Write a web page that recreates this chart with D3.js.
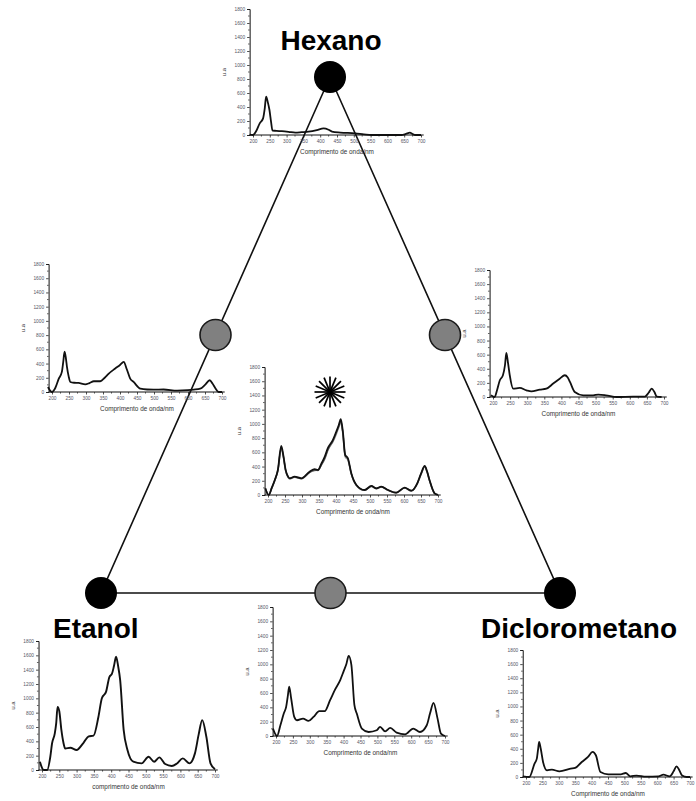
<!DOCTYPE html>
<html>
<head>
<meta charset="utf-8">
<script src="https://cdn.jsdelivr.net/npm/d3@7"></script>
<style>
  html, body { margin: 0; padding: 0; background: #fff; }
  svg { display: block; font-family: Arial, "Liberation Sans", sans-serif; }
</style>
</head>
<body>
<svg id="fig" width="696" height="801"></svg>
<script>
// UV-Vis spectra (u.a) of extracts at each point of the solvent mixture design
const xTicks = [200, 250, 300, 350, 400, 450, 500, 550, 600, 650, 700];
const yTicks = [0, 200, 400, 600, 800, 1000, 1200, 1400, 1600, 1800];

const hexanoWl = [190,200,210,220,230,235,239,244,249,254,258,270,286,306,326,345,365,390,410,425,435,460,504,530,553,600,642,655,667,675,682,700];
const hexanoUa = [5,0,60,167,238,380,548,470,357,180,62,60,55,45,33,40,48,70,95,75,48,35,24,10,0,0,0,15,33,15,0,0];

const hexEtWl = [188,200,210,220,229,233,237,241,244,249,254,265,278,298,310,323,342,355,367,386,400,411,420,430,440,460,480,499,528,568,600,617,636,650,664,672,680,690,700];
const hexEtUa = [71,0,60,188,283,420,566,470,353,220,141,130,127,108,125,151,151,200,259,330,380,424,320,188,141,47,35,33,35,19,25,33,47,100,165,120,57,0,0];

const hexDcWl = [194,205,212,220,229,235,239,244,249,259,278,298,312,337,356,376,395,410,418,425,439,464,493,508,530,562,610,644,655,664,672,679,693];
const hexDcUa = [24,0,100,237,308,450,625,480,308,118,128,95,80,104,118,190,260,308,280,213,71,24,24,33,24,0,5,5,60,118,70,5,0];

const centroWl = [192,202,211,220,229,239,245,252,259,264,278,298,323,337,347,357,367,376,391,401,408,414,420,427,435,445,460,484,504,519,533,553,577,602,622,639,650,661,668,675,690,700];
const centroUa = [94,0,100,211,352,690,560,350,258,235,258,235,329,362,352,440,540,658,775,893,980,1067,900,564,517,305,141,70,127,94,117,70,33,103,61,164,300,409,330,211,23,0];
const centroRep1Ua = [94,0,95,205,340,660,540,340,250,228,250,228,318,350,345,430,520,640,750,860,950,1020,870,540,495,295,135,66,120,90,112,66,30,98,58,158,290,395,320,205,22,0];
const centroRep2Ua = [90,0,98,208,345,675,550,345,255,232,254,232,322,345,348,420,505,625,760,875,965,1040,885,555,505,300,138,68,124,92,115,68,32,100,60,160,295,400,325,208,22,0];

const etanolWl = [194,200,205,215,224,229,237,241,245,250,256,262,267,282,300,320,335,349,363,373,385,395,402,408,414,420,426,436,447,464,488,508,524,539,556,575,590,607,626,642,653,663,675,687,700];
const etanolUa = [116,30,0,0,185,370,510,650,881,820,560,380,300,310,280,380,470,480,740,1000,1090,1300,1340,1450,1580,1450,1250,560,280,116,93,185,116,176,83,56,90,162,93,232,500,696,464,93,10];

const etDcWl = [191,203,213,223,230,235,239,245,254,262,280,296,311,328,344,360,375,390,400,408,415,423,432,439,454,474,498,508,523,538,557,582,606,626,646,656,666,678,688,700];
const etDcUa = [103,0,150,313,407,560,687,520,266,220,243,210,266,346,346,500,650,780,902,1000,1117,991,430,313,103,56,80,126,65,112,47,23,103,56,150,320,463,243,33,0];

const dicloroWl = [190,210,226,233,237,240,245,252,264,279,302,336,350,370,389,403,413,427,451,489,504,518,537,566,604,619,638,650,659,667,676,690,700];
const dicloroUa = [10,0,190,260,400,497,400,213,95,104,80,118,128,213,284,355,308,71,38,38,57,10,20,5,10,33,10,80,152,100,20,0,0];

const vertexNames = ["Hexano", "Etanol", "Diclorometano"];
const axisTitle = "Comprimento de onda/nm";
const axisTitleLower = "comprimento de onda/nm";
const yTitle = "u.a";

const svg = d3.select("#fig");

// ---- mixture triangle ----
const vTop = [330, 77], vLeft = [101, 593], vRight = [560, 593];
const mid = (a, b) => [(a[0] + b[0]) / 2, (a[1] + b[1]) / 2];

svg.append("path")
  .attr("d", d3.line()([vTop, vLeft, vRight, vTop]))
  .attr("fill", "none").attr("stroke", "#111").attr("stroke-width", 1.6);

// ---- spectrum panels ----
function panel(p) {
  const x = d3.scaleLinear().domain([200, 700]).range([p.x200, p.x700]);
  const y = d3.scaleLinear().domain([0, 1800]).range([p.y0, p.y1800]);
  const g = svg.append("g");
  const x0 = x(190);

  // axes
  const ax = d3.axisBottom(x).tickValues(xTicks).tickFormat(d3.format("d")).tickSize(2.5).tickPadding(2);
  const gx = g.append("g").attr("transform", `translate(0,${p.y0})`).call(ax);
  const ay = d3.axisLeft(y).tickValues(yTicks).tickFormat(d3.format("d")).tickSize(2.5).tickPadding(2);
  const gy = g.append("g").attr("transform", `translate(${x0},0)`).call(ay);
  [gx, gy].forEach(a => {
    a.select(".domain").attr("stroke", "#111").attr("stroke-width", 1);
    a.selectAll(".tick line").attr("stroke", "#222").attr("stroke-width", 0.8);
    a.selectAll(".tick text").attr("font-size", 4.8).attr("fill", "#556");
  });
  gx.select(".domain").attr("d", `M${x0},0H${x(708)}`);
  // minor ticks
  g.append("g").selectAll("line").data(d3.range(225, 700, 50)).join("line")
    .attr("x1", d => x(d)).attr("x2", d => x(d))
    .attr("y1", p.y0).attr("y2", p.y0 + 1.6).attr("stroke", "#222").attr("stroke-width", 0.7);
  g.append("g").selectAll("line").data(d3.range(100, 1800, 200)).join("line")
    .attr("x1", x0).attr("x2", x0 - 1.6)
    .attr("y1", d => y(d)).attr("y2", d => y(d)).attr("stroke", "#222").attr("stroke-width", 0.7);

  // axis titles
  g.append("text").attr("x", (p.x200 + p.x700) / 2).attr("y", p.y0 + 18.5)
    .attr("text-anchor", "middle").attr("font-size", 6.4).attr("fill", "#333")
    .text(p.xTitle || axisTitle);
  g.append("text")
    .attr("transform", `translate(${x0 - 24},${(p.y0 + p.y1800) / 2}) rotate(-90)`)
    .attr("text-anchor", "middle").attr("font-size", 6).attr("fill", "#333").text(yTitle);

  // spectra
  const line = d3.line().x(d => x(d[0])).y(d => y(d[1])).curve(d3.curveMonotoneX);
  p.series.forEach(s => {
    g.append("path").datum(d3.zip(s.wl, s.ua))
      .attr("d", line).attr("fill", "none")
      .attr("stroke", s.color).attr("stroke-width", s.width)
      .attr("stroke-linejoin", "round");
  });
}

panel({ x200: 253, x700: 421, y0: 135, y1800: 9,
  series: [{ wl: hexanoWl, ua: hexanoUa, color: "#111", width: 1.8 }] });
panel({ x200: 52, x700: 222, y0: 392, y1800: 264,
  series: [{ wl: hexEtWl, ua: hexEtUa, color: "#111", width: 1.8 }] });
panel({ x200: 493, x700: 664, y0: 397, y1800: 270,
  series: [{ wl: hexDcWl, ua: hexDcUa, color: "#111", width: 1.8 }] });
panel({ x200: 268, x700: 438, y0: 495, y1800: 367,
  series: [
    { wl: centroWl, ua: centroRep1Ua, color: "#999", width: 1.6 },
    { wl: centroWl, ua: centroRep2Ua, color: "#666", width: 1.4 },
    { wl: centroWl, ua: centroUa, color: "#111", width: 1.8 }] });
panel({ x200: 42, x700: 215, y0: 770, y1800: 641, xTitle: axisTitleLower,
  series: [{ wl: etanolWl, ua: etanolUa, color: "#111", width: 1.9 }] });
panel({ x200: 276, x700: 445, y0: 736, y1800: 607,
  series: [{ wl: etDcWl, ua: etDcUa, color: "#111", width: 1.8 }] });
panel({ x200: 526, x700: 690, y0: 777, y1800: 650,
  series: [{ wl: dicloroWl, ua: dicloroUa, color: "#111", width: 1.8 }] });

// ---- design points ----
[vTop, vLeft, vRight].forEach(c => {
  svg.append("circle").attr("cx", c[0]).attr("cy", c[1]).attr("r", 16).attr("fill", "#000");
});
[mid(vTop, vLeft), mid(vTop, vRight), mid(vLeft, vRight)].forEach(c => {
  svg.append("circle").attr("cx", c[0]).attr("cy", c[1]).attr("r", 15.5)
    .attr("fill", "#808080").attr("stroke", "#1a1a1a").attr("stroke-width", 1.6);
});

// centroid marker (asterisk)
const star = svg.append("g").attr("transform", "translate(330,392)");
star.selectAll("line").data(d3.range(8)).join("line")
  .attr("x1", d => 15.5 * Math.cos(d * Math.PI / 8)).attr("y1", d => 15.5 * Math.sin(d * Math.PI / 8))
  .attr("x2", d => -15.5 * Math.cos(d * Math.PI / 8)).attr("y2", d => -15.5 * Math.sin(d * Math.PI / 8))
  .attr("stroke", "#000").attr("stroke-width", 1.7);

// ---- vertex labels ----
const titleStyle = t => t.attr("font-size", 28).attr("font-weight", "bold").attr("fill", "#000");
svg.append("text").attr("x", 331).attr("y", 50).attr("text-anchor", "middle").text(vertexNames[0]).call(titleStyle);
svg.append("text").attr("x", 53).attr("y", 638).attr("text-anchor", "start").text(vertexNames[1]).call(titleStyle);
svg.append("text").attr("x", 677).attr("y", 638).attr("text-anchor", "end").text(vertexNames[2]).call(titleStyle);
</script>
</body>
</html>
